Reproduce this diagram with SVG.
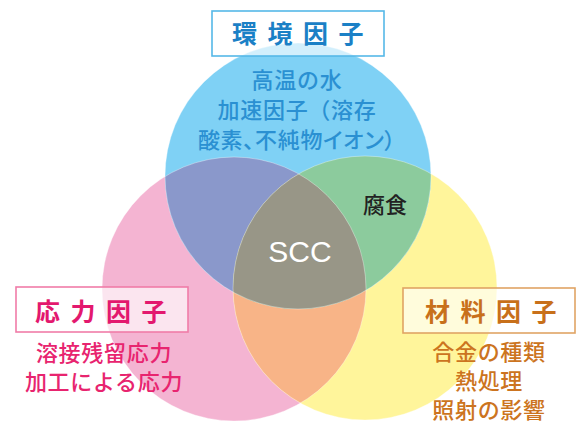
<svg xmlns="http://www.w3.org/2000/svg" width="576" height="425" viewBox="0 0 576 425">
<style>
.jp{font-family:"Noto Sans CJK JP","Noto Sans",sans-serif}
.ttl{font-size:25px;font-weight:bold;letter-spacing:10.5px}
.body{font-size:22px;font-weight:500;letter-spacing:0.7px;text-anchor:middle}
.palt{font-feature-settings:"palt"}
.box{fill:#ffffff;fill-opacity:0.65;stroke-width:1.6}
.edge{fill:none;stroke:#ffffff;stroke-opacity:0.35;stroke-width:1}
</style>
<defs>
<clipPath id="cB"><circle cx="298" cy="176" r="133"/></clipPath>
<clipPath id="cP"><circle cx="234" cy="289" r="132"/></clipPath>
<clipPath id="cY"><circle cx="365" cy="288" r="132"/></clipPath>
</defs>
<rect width="576" height="425" fill="#ffffff"/>
<g id="circles">
<circle cx="234" cy="289" r="132" fill="#f4b4d2"/>
<circle cx="365" cy="288" r="132" fill="#fff59b"/>
<circle cx="298" cy="176" r="133" fill="#7fd1f5"/>
<g clip-path="url(#cP)"><circle cx="298" cy="176" r="133" fill="#8a98cb"/><circle cx="365" cy="288" r="132" fill="#f8b487"/></g>
<g clip-path="url(#cB)"><circle cx="365" cy="288" r="132" fill="#8ccb9d"/></g>
<g clip-path="url(#cB)"><g clip-path="url(#cP)"><circle cx="365" cy="288" r="132" fill="#989687"/></g></g>
<circle class="edge" cx="234" cy="289" r="132"/>
<circle class="edge" cx="365" cy="288" r="132"/>
<circle class="edge" cx="298" cy="176" r="133"/>
</g>
<g id="env">
<rect class="box" x="212" y="11" width="172" height="45" stroke="#55b8e8"/>
<text class="jp ttl" x="232" y="43" fill="#1b80c6">環境因子</text>
<g class="jp body" fill="#2a90d2">
<text x="297" y="88">高温の水</text>
<text x="297" y="118">加速因子（溶存</text>
<text class="palt" x="297" y="148">酸素、不純物イオン）</text>
</g>
</g>
<g id="stress">
<rect class="box" x="16" y="287" width="172" height="45" stroke="#f07ca8"/>
<text class="jp ttl" x="35" y="321" fill="#e3186e">応力因子</text>
<g class="jp body" fill="#e8246f">
<text x="104" y="361">溶接残留応力</text>
<text x="104" y="390">加工による応力</text>
</g>
</g>
<g id="material">
<rect class="box" x="403" y="288" width="172" height="45" stroke="#e0a464"/>
<text class="jp ttl" x="425" y="321" fill="#c8701a">材料因子</text>
<g class="jp body" fill="#cc7420">
<text x="489" y="360">合金の種類</text>
<text x="489" y="389">熱処理</text>
<text x="489" y="418">照射の影響</text>
</g>
</g>
<g id="corrosion">
<text class="jp" x="385" y="213" font-size="22" font-weight="500" text-anchor="middle" fill="#222222">腐食</text>
</g>
<g id="scc">
<text x="300" y="262" font-family="Liberation Sans, Arial, sans-serif" font-size="30" text-anchor="middle" fill="#ffffff">SCC</text>
</g>
</svg>
